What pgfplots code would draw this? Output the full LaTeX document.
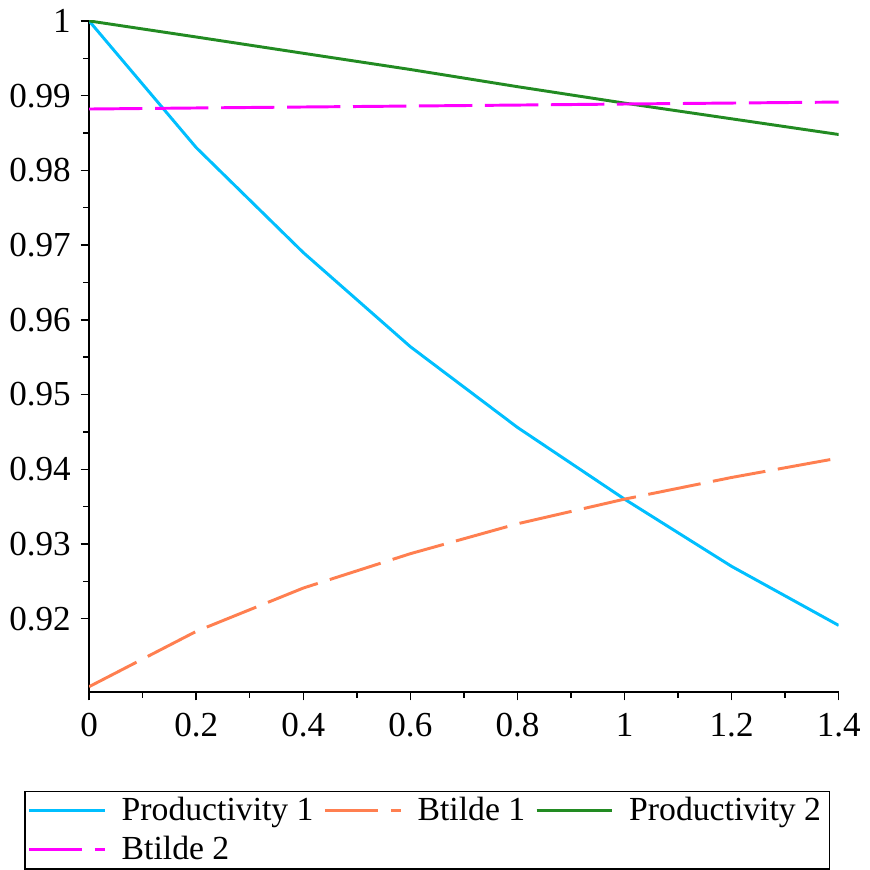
\documentclass[border=0pt]{standalone}
\usepackage{fontspec}
\setmainfont{Liberation Serif}
\usepackage{pgfplots}
\pgfplotsset{compat=1.18}
\definecolor{pcyan}{RGB}{0,191,255}
\definecolor{pcoral}{RGB}{255,127,80}
\definecolor{pgreen}{RGB}{34,139,34}
\definecolor{pmag}{RGB}{255,0,255}
\begin{document}
\begin{tikzpicture}
\begin{axis}[
  scale only axis,
  width=267pt, height=239pt,
  xmin=0, xmax=1.4,
  ymin=0.9102, ymax=1,
  axis lines=left,
  axis line style={-, line width=0.7pt},
  xtick={0,0.2,...,1.4},
  ytick={0.92,0.93,...,1.0},
  minor tick num=1,
  tick align=outside,
  major tick length=3pt,
  minor tick length=2pt,
  tick style={black, line width=0.5pt},
  tick label style={font=\fontsize{12.5}{14}\selectfont},
  xticklabel style={yshift=-1pt},
  /pgf/number format/assume math mode=true,
  /pgf/number format/fixed,
  /pgf/number format/precision=2,
  legend columns=3,
  legend cell align=left,
  legend style={
    at={(axis description cs:-0.087,-0.147)}, anchor=north west,
    draw=black, line width=0.6pt,
    font=\fontsize{12}{14}\selectfont,
    inner xsep=1pt, inner ysep=0pt,
    row sep=0pt,
    /tikz/every even column/.append style={column sep=1.5pt},
    /tikz/every odd column/.append style={column sep=3.5pt},
  },
  legend image code/.code={\draw[#1] (0cm,0cm) -- (27pt,0cm);},
]
\addplot[pcyan, line width=1.05pt] coordinates {
  (0,1) (0.2,0.98305) (0.4,0.9690) (0.6,0.9564) (0.8,0.9456)
  (1.0,0.9360) (1.2,0.9270) (1.4,0.9191)
};
\addlegendentry{Productivity 1}
\addplot[pcoral, line width=1.05pt, dash pattern=on 19pt off 4.5pt] coordinates {
  (0,0.9109) (0.2,0.9183) (0.4,0.9241) (0.6,0.9287) (0.8,0.9327)
  (1.0,0.9360) (1.2,0.9389) (1.4,0.9415)
};
\addlegendentry{Btilde 1}
\addplot[pgreen, line width=1.05pt] coordinates {
  (0,1) (0.2,0.99785) (0.4,0.99567) (0.6,0.9935) (0.8,0.9912)
  (1.0,0.9890) (1.2,0.9869) (1.4,0.9848)
};
\addlegendentry{Productivity 2}
\addplot[pmag, line width=1.05pt, dash pattern=on 19pt off 4.5pt] coordinates {
  (0,0.98821) (0.2,0.98835) (0.4,0.98848) (0.6,0.98861) (0.8,0.98874)
  (1.0,0.98888) (1.2,0.98901) (1.4,0.98914)
};
\addlegendentry{Btilde 2}
\end{axis}
\end{tikzpicture}
\end{document}
